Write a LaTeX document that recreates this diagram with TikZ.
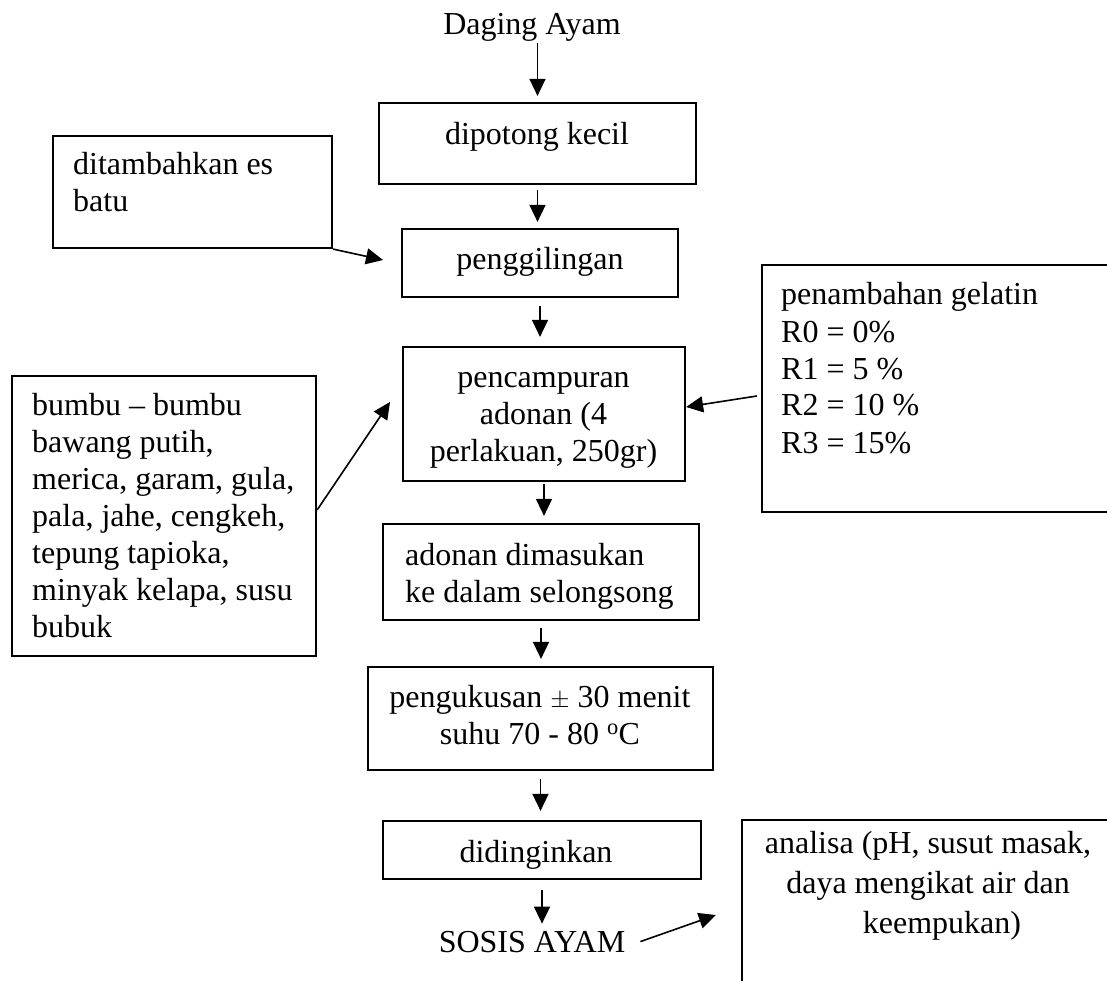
\documentclass[tikz,border=0pt]{standalone}
\usepackage{fontspec}
\setmainfont{Liberation Serif}
\usetikzlibrary{arrows.meta}
\begin{document}
\begin{tikzpicture}[x=1pt,y=-1pt,
  box/.style={draw, line width=2.2pt, inner sep=0pt},
  txt/.style={inner sep=0pt, font=\fontsize{32}{37}\selectfont},
  arr/.style={line width=1.6pt, -{Triangle[length=17pt,width=16pt]}}]
\path[use as bounding box, clip] (0,0) rectangle (1107,981);
\fill[white] (0,0) rectangle (1107,981);

% boxes
\node[box, minimum width=317pt, minimum height=81pt]  (b1) at (537.5,143.5) {};
\node[box, minimum width=276pt, minimum height=68pt]  (b2) at (540,263) {};
\node[box, minimum width=282pt, minimum height=134pt] (b3) at (544,414) {};
\node[box, minimum width=316pt, minimum height=96pt]  (b4) at (541,572) {};
\node[box, minimum width=345pt, minimum height=103pt] (b5) at (540.5,718.5) {};
\node[box, minimum width=318pt, minimum height=58pt]  (b6) at (542,850) {};
\node[box, minimum width=279pt, minimum height=112pt] (bt) at (192.5,192) {};
\node[box, minimum width=304pt, minimum height=280pt] (bb) at (164,516) {};
\node[box, minimum width=353pt, minimum height=247pt] (bg) at (938.5,388.5) {};
\node[box, minimum width=373pt, minimum height=190pt] (ba) at (928.5,915) {};

% texts
\node[txt, anchor=base] (dg) at (532,35) {Daging Ayam};
\node[txt, anchor=base] (t1) at (537,145) {dipotong kecil};
\node[txt, anchor=base] (t2) at (540,270) {penggilingan};
\node[txt, anchor=base] (t3) at (543.5,387) {\parbox[t]{270pt}{\centering pencampuran\\adonan (4\\perlakuan, 250gr)}};
\node[txt, anchor=base west] (t4) at (405,565) {\parbox[t]{290pt}{adonan dimasukan\\ke dalam selongsong}};
\node[txt, anchor=base] (t5) at (540,707) {\parbox[t]{340pt}{\centering pengukusan $\pm$ 30 menit\\suhu 70 - 80 \textsuperscript{o}C}};
\node[txt, anchor=base] (t6) at (536,862) {didinginkan};
\node[txt, anchor=base] (ss) at (532,952) {SOSIS AYAM};
\node[txt, anchor=base west] (tt) at (73,175) {\parbox[t]{250pt}{ditambahkan es\\batu}};
\node[txt, anchor=base west] (tb) at (32,415) {\parbox[t]{280pt}{bumbu -- bumbu\\bawang putih,\\merica, garam, gula,\\pala, jahe, cengkeh,\\tepung tapioka,\\minyak kelapa, susu\\bubuk}};
\node[txt, anchor=base west] (tg) at (781,305) {\parbox[t]{320pt}{penambahan gelatin\\R0 = 0\%\\R1 = 5 \%\\R2 = 10 \%\\R3 = 15\%}};
\node[txt, anchor=base] (ta) at (928,853) {\parbox[t]{360pt}{\centering\baselineskip=40pt analisa (pH, susut masak,\\daya mengikat air dan\\\hspace*{28pt}keempukan)}};

% main flow arrows
\draw[arr, shorten <=1pt, shorten >=6pt] (b1.north |- dg.south) -- (b1.north);
\draw[arr, shorten <=5pt, shorten >=6pt] (b1.south) -- (b1.south |- b2.north);
\draw[arr, shorten <=8pt, shorten >=9pt] (b2.south) -- (b2.south |- b3.north);
\draw[arr, shorten <=2pt, shorten >=7pt] (b3.south) -- (b3.south |- b4.north);
\draw[arr, shorten <=7pt, shorten >=7pt] (b4.south) -- (b4.south |- b5.north);
\draw[arr, shorten <=8pt, shorten >=9pt] (b5.south) -- (b5.south |- b6.north);
\draw[arr, shorten <=10pt, shorten >=7pt] (b6.south) -- (b6.south |- ss.north);

% side arrows
\coordinate (p1) at (383,260);
\draw[arr] (bt.south east) -- (p1);
\coordinate (p2) at (390,402);
\draw[arr] ([yshift=6pt]bb.east) -- (p2);
\draw[arr] ([xshift=-4pt,yshift=-7.5pt]bg.west) -- ([yshift=7pt]b3.east);
\draw[arr] ([xshift=15pt]ss.east) -- ([xshift=-25pt]ba.west);
\end{tikzpicture}
\end{document}
